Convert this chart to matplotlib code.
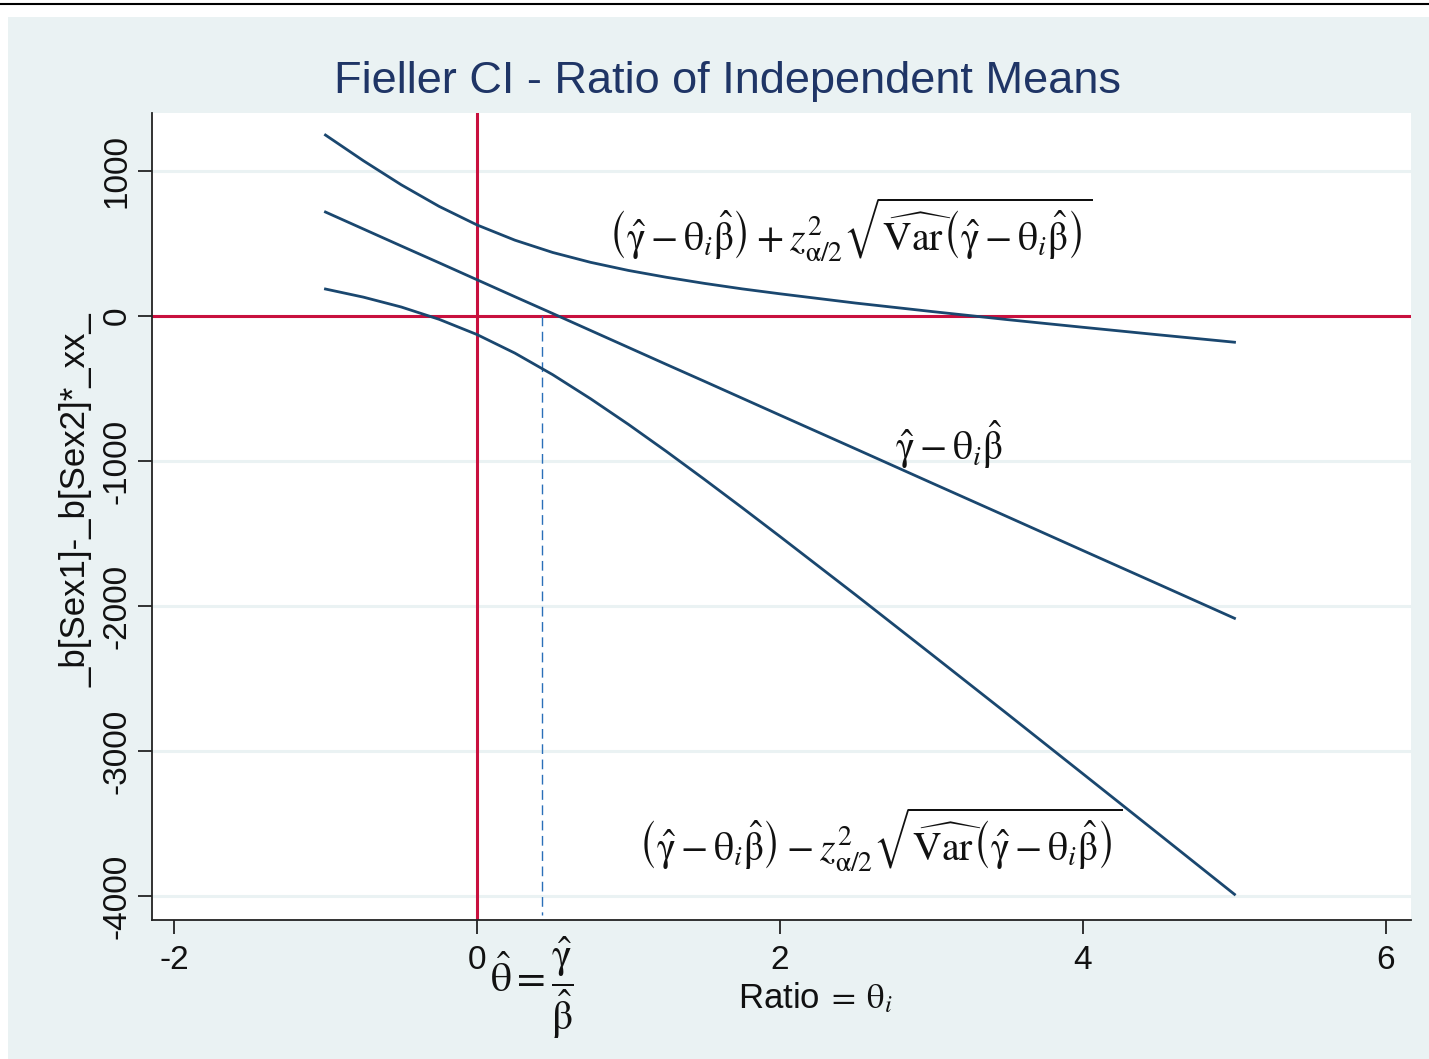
import matplotlib
matplotlib.use("Agg")
import matplotlib.pyplot as plt
from matplotlib.patches import Rectangle
from matplotlib.lines import Line2D

plt.rcParams['font.family'] = ['Liberation Sans', 'DejaVu Sans']
plt.rcParams['mathtext.fontset'] = 'stix'
plt.rcParams['axes.unicode_minus'] = False

# ---- data ----
theta = [-1, -0.75, -0.5, -0.25, 0, 0.25, 0.5, 0.75, 1, 1.25, 1.5, 1.75, 2,
         2.5, 3, 3.5, 4, 4.5, 5]
upper = [1248, 1071, 905, 756, 628, 523, 438, 370, 314, 267, 225, 187, 153,
         89, 31, -25, -78, -130, -181]
middle = [717, 600, 483, 367, 250, 133, 17, -100, -217, -334, -450, -567, -684,
          -917, -1151, -1384, -1618, -1851, -2085]
lower = [186, 130, 62, -23, -128, -256, -405, -571, -748, -934, -1126, -1322, -1521,
         -1924, -2333, -2744, -3158, -3573, -3989]
theta_hat = 0.43
xticks = [-2, 0, 2, 4, 6]
yticks = [-4000, -3000, -2000, -1000, 0, 1000]
title = "Fieller CI - Ratio of Independent Means"
ylabel = "_b[Sex1]-_b[Sex2]*_xx_"

W, H = 1429, 1059
fig = plt.figure(figsize=(W / 100, H / 100), dpi=100)
fig.patch.set_facecolor('white')

# graph region background
fig.patches.append(Rectangle((8 / W, 0), 1, 1 - 17 / H, transform=fig.transFigure,
                             facecolor='#EAF2F3', edgecolor='none', zorder=-5))
fig.lines.append(Line2D([0, 1], [1 - 3.5 / H, 1 - 3.5 / H], transform=fig.transFigure,
                        color='black', linewidth=1.5, zorder=-4))

ax = fig.add_axes([152 / W, 1 - 920 / H, (1411 - 152) / W, (920 - 113) / H])
ax.set_zorder(2)
ax.set_facecolor('white')
ax.set_xlim(-2.145, 6.165)
ax.set_ylim(-4166, 1400)

navy = '#1A476F'
red = '#C8103E'

for yv in yticks:
    ax.axhline(yv, color='#EAF2F3', linewidth=2.2, zorder=1)

ax.axvline(0, color=red, linewidth=2.2, zorder=2)
ax.axhline(0, color=red, linewidth=2.2, zorder=2)
ax.plot([theta_hat, theta_hat], [0, -4130], color='#2A6FB8', linewidth=1.0,
        linestyle=(0, (7, 4)), zorder=2)

for ys in (upper, middle, lower):
    ax.plot(theta, ys, color=navy, linewidth=2.0, zorder=3)

for s in ('top', 'right'):
    ax.spines[s].set_visible(False)
for s in ('left', 'bottom'):
    ax.spines[s].set_linewidth(1.3)
    ax.spines[s].set_color('#222222')

ax.set_xticks(xticks)
ax.set_yticks(yticks)
ax.set_yticklabels([str(v) for v in yticks], rotation=90, va='center')
ax.tick_params(axis='both', direction='out', length=10, width=1.3, color='#222222',
               labelsize=24, labelcolor='#111111')
ax.tick_params(axis='x', pad=8)
ax.tick_params(axis='y', pad=4)

# title and axis labels
fig.text(727 / W, 1 - 81 / H, title, ha='center', va='center', fontsize=32.5,
         color='#1F3566', zorder=5)
fig.text(76 / W, 1 - 500 / H, ylabel, ha='center', va='center', rotation=90,
         fontsize=25, color='#111111', zorder=5)
fig.text(816 / W, 1 - 998 / H, r'Ratio$\;=\;\mathrm{\theta}_i$', ha='center', va='center',
         fontsize=25, color='#111111', zorder=5)
fig.text(532 / W, 1 - 988 / H, r'$\hat{\mathrm{\theta}}=\dfrac{\hat{\mathrm{\gamma}}}{\hat{\mathrm{\beta}}}$',
         ha='center', va='center', fontsize=30, color='#111111', zorder=5)


def labels(tall):
    ph = r'\vphantom{\widehat{\mathrm{V}}}' if tall else ''
    up = (r'$\left(' + ph + r'\hat{\mathrm{\gamma}}-\mathrm{\theta}_i\hat{\mathrm{\beta}}\right)'
          r'+z^2_{\mathrm{\alpha}/2}\sqrt{\widehat{\mathrm{Var}}'
          r'\left(' + ph + r'\hat{\mathrm{\gamma}}-\mathrm{\theta}_i\hat{\mathrm{\beta}}\right)}$')
    lo = up.replace(r'\right)+z', r'\right)-z')
    return up, lo


up_lbl, lo_lbl = labels(True)
t_up = ax.text(0.865, 600, up_lbl, ha='left', va='center', fontsize=28.5,
               color='#111111', zorder=4)
t_lo = ax.text(1.063, -3610, lo_lbl, ha='left', va='center', fontsize=28.5,
               color='#111111', zorder=4)
ax.text(2.76, -890, r'$\hat{\mathrm{\gamma}}-\mathrm{\theta}_i\hat{\mathrm{\beta}}$',
        ha='left', va='center', fontsize=28.5, color='#111111', zorder=4)

try:
    fig.savefig('out.png', dpi=100)
except Exception:
    up_lbl, lo_lbl = labels(False)
    t_up.set_text(up_lbl)
    t_lo.set_text(lo_lbl)
    fig.savefig('out.png', dpi=100)
